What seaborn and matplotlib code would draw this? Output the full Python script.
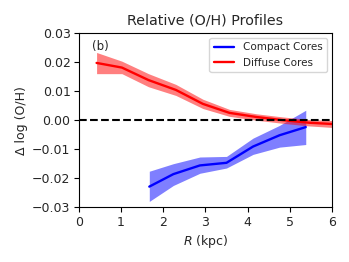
import numpy as np
import pandas as pd
import matplotlib
matplotlib.use("Agg")
import matplotlib.pyplot as plt
import seaborn as sns

# Profiles
r_compact = [1.67, 2.24, 2.87, 3.50, 4.13, 4.76, 5.38]
oh_compact = [-0.0229, -0.0186, -0.0156, -0.0147, -0.0091, -0.0052, -0.0024]
lo_compact = [-0.0280, -0.0225, -0.0183, -0.0165, -0.0118, -0.0093, -0.0084]
hi_compact = [-0.0176, -0.0150, -0.0127, -0.0125, -0.0062, -0.0018, 0.0034]

r_diffuse = [0.42, 1.02, 1.65, 2.30, 2.94, 3.57, 4.20, 4.83, 5.46, 6.09]
oh_diffuse = [0.0197, 0.0181, 0.0138, 0.0104, 0.0056, 0.0025, 0.0011, 0.0000, -0.0009, -0.0014]
lo_diffuse = [0.0160, 0.0160, 0.0115, 0.0085, 0.0040, 0.0013, 0.0000, -0.0011, -0.0020, -0.0026]
hi_diffuse = [0.0233, 0.0203, 0.0160, 0.0123, 0.0072, 0.0037, 0.0022, 0.0011, 0.0002, -0.0002]

sns.set_theme(style="ticks")
plt.rcParams["font.family"] = ["DejaVu Sans"]

fig = plt.figure(figsize=(3.49, 2.62), dpi=100)
ax = fig.add_axes([0.226, 0.209, 0.725, 0.665])

df_c = pd.DataFrame({"R": r_compact, "dOH": oh_compact})
df_d = pd.DataFrame({"R": r_diffuse, "dOH": oh_diffuse})

ax.fill_between(r_compact, lo_compact, hi_compact, color="blue", alpha=0.5, lw=0)
ax.fill_between(r_diffuse, lo_diffuse, hi_diffuse, color="red", alpha=0.5, lw=0)
sns.lineplot(data=df_c, x="R", y="dOH", ax=ax, color="blue", lw=1.7, label="Compact Cores")
sns.lineplot(data=df_d, x="R", y="dOH", ax=ax, color="red", lw=1.7, label="Diffuse Cores")
ax.axhline(0, color="black", ls="--", lw=1.5)

ax.set_xlim(0, 6)
ax.set_ylim(-0.03, 0.03)
ax.set_xticks(range(7))
ax.set_yticks([-0.03, -0.02, -0.01, 0.0, 0.01, 0.02, 0.03])
ax.tick_params(labelsize=9, length=3.5, width=0.8, color="black", pad=2.5)
for s in ax.spines.values():
    s.set_color("black")
    s.set_linewidth(0.8)

ax.set_xlabel("$R$ (kpc)", fontsize=9, labelpad=3)
ax.set_ylabel("Δ log (O/H)", fontsize=9, labelpad=3)
ax.set_title("Relative (O/H) Profiles", fontsize=10.3, pad=6)
ax.text(0.5, 0.0255, "(b)", fontsize=8.5, ha="center", va="center")
ax.legend(loc="upper right", fontsize=7.5, frameon=True, fancybox=True)

fig.savefig("out.png", dpi=100)
